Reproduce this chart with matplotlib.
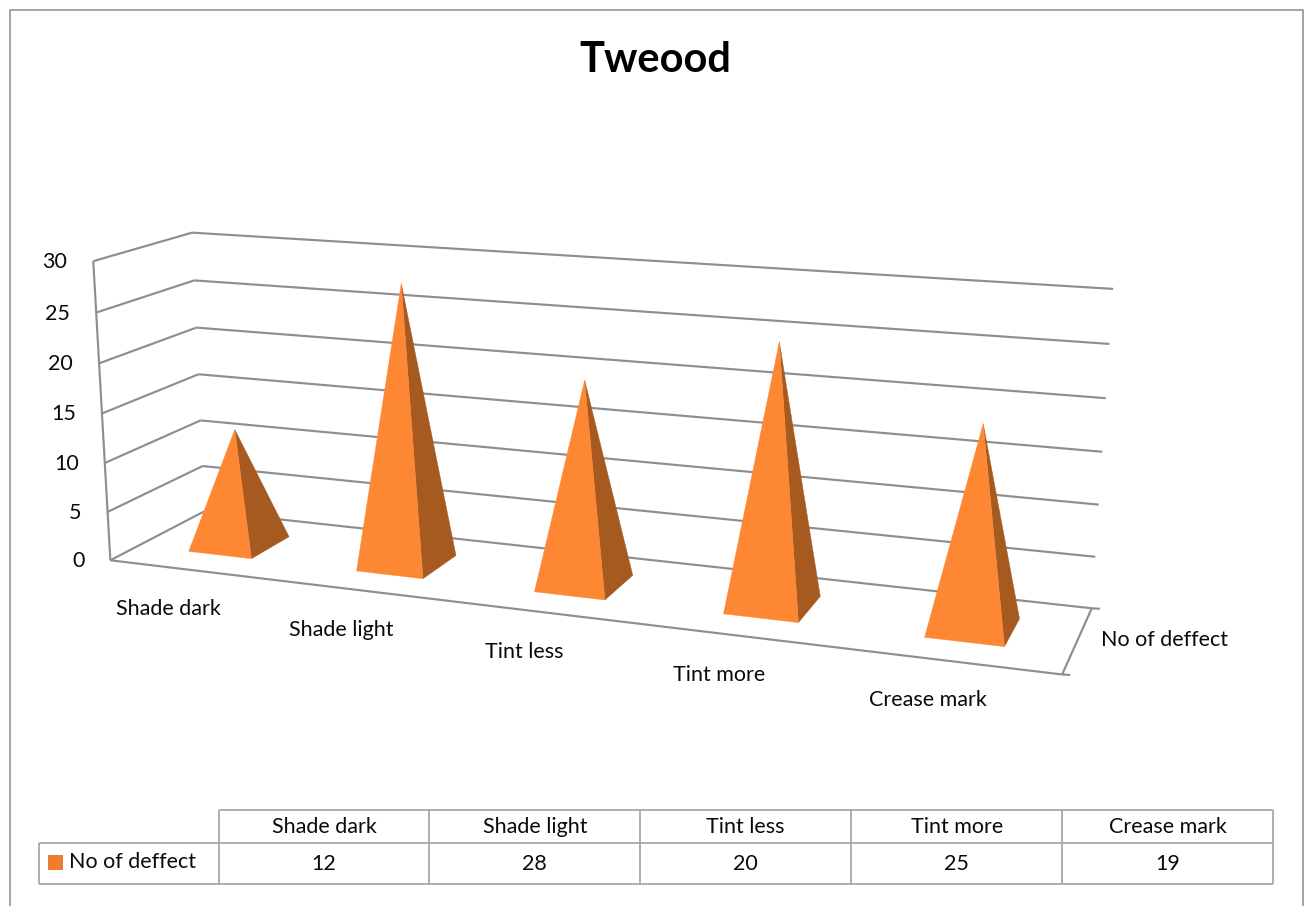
import numpy as np
import matplotlib
matplotlib.use("Agg")
import matplotlib.pyplot as plt
from matplotlib.patches import Polygon, Rectangle

plt.rcParams['font.family'] = ['Lato', 'DejaVu Sans']

# Chart data
title = "Tweood"
series_name = "No of deffect"
categories = ["Shade dark", "Shade light", "Tint less", "Tint more", "Crease mark"]
defects = [12, 28, 20, 25, 19]
y_ticks = [0, 5, 10, 15, 20, 25, 30]

W, H = 1307, 906
GRID = "#8f8d8d"
TABLE = "#a8a8a8"
FRAME = "#8c8c8c"
FRONT = "#fe8733"
SIDE = "#a65a20"
SWATCH = "#ed7d31"
TXT = "#0a0a0a"

fig = plt.figure(figsize=(W / 100, H / 100), dpi=100)
ax = fig.add_axes([0, 0, 1, 1])
ax.set_xlim(0, W)
ax.set_ylim(H, 0)
ax.axis("off")

# Perspective camera: solved from where the box corners land on the canvas.
# World axes are (category position, value, depth 0..1).
n = len(categories)
ymax = y_ticks[-1]
anchors = [
    ((0, 0, 0), (111, 560)),
    ((n, 0, 0), (1062, 675)),
    ((0, 0, 1), (204, 511.5)),
    ((n, 0, 1), (1092, 607.7)),
    ((0, ymax, 0), (92.7, 261)),
    ((0, ymax, 1), (192.7, 232.7)),
    ((n, ymax, 1), (1113, 289)),
]
rows = []
for (a, b, c), (px, py) in anchors:
    a, b, c = a / n, b / ymax, c
    rows.append([a, b, c, 1, 0, 0, 0, 0, -px * a, -px * b, -px * c, -px])
    rows.append([0, 0, 0, 0, a, b, c, 1, -py * a, -py * b, -py * c, -py])
P = np.linalg.svd(np.array(rows, float))[2][-1].reshape(3, 4)


def project(u, h, v):
    q = P @ np.array([u / n, h / ymax, v, 1.0])
    return q[0] / q[2], q[1] / q[2]


def line(p, q, color=GRID, lw=1.55):
    ax.plot([p[0], q[0]], [p[1], q[1]], color=color, lw=lw, solid_capstyle="butt", zorder=1)


# Walls and floor
for t in y_ticks:
    line(project(0, t, 0), project(0, t, 1))
    line(project(0, t, 1), project(n, t, 1))
    x, y = project(0, t, 0)
    ax.text(x - 26, y + 1, str(t), ha="right", va="center", fontsize=FS if False else 15.5, color=TXT)
line(project(0, 0, 0), project(0, ymax, 0))
line(project(0, 0, 0), project(n, 0, 0))
line(project(n, 0, 0), project(n, 0, 1))

# Short depth-axis ticks at the lower right of the floor
for v in (0, 1):
    x, y = project(n, 0, v)
    line((x, y), (x + 8, y + 0.5))

# Pyramids
half_w, half_d = 0.19, 0.215
for i, val in enumerate(defects):
    c = i + 0.5
    apex = project(c, val, 0.5)
    fl = project(c - half_w, 0, 0.5 - half_d)
    fr = project(c + half_w, 0, 0.5 - half_d)
    br = project(c + half_w, 0, 0.5 + half_d)
    ax.add_patch(Polygon([fr, br, apex], closed=True, fc=SIDE, ec=SIDE, lw=0.3, zorder=3))
    ax.add_patch(Polygon([fl, fr, apex], closed=True, fc=FRONT, ec=FRONT, lw=0.3, zorder=4))

# Category and series labels
for i, name in enumerate(categories):
    x, y = project(i + 0.5, 0, 0)
    ax.text(x - 25, y + 39, name, ha="center", va="center", fontsize=15.5, color=TXT)
x, y = project(n, 0, 0.5)
ax.text(x + 23, y + 0, series_name, ha="left", va="center", fontsize=15.5, color=TXT)

ax.text(655, 60, title, ha="center", va="center", fontsize=30, fontweight="bold", color="black")

# Data table underneath
col_x = np.linspace(218.5, 1273, n + 1)
top, mid, bot, left = 810, 842.5, 884, 38.5
for xv in col_x:
    line((xv, top), (xv, bot), TABLE, 1.3)
line((col_x[0], top), (col_x[-1], top), TABLE, 1.3)
line((left, mid), (col_x[-1], mid), TABLE, 1.3)
line((left, bot), (col_x[-1], bot), TABLE, 1.3)
line((left, mid), (left, bot), TABLE, 1.3)
for i, (name, val) in enumerate(zip(categories, defects)):
    cx = (col_x[i] + col_x[i + 1]) / 2
    ax.text(cx, (top + mid) / 2 + 0.5, name, ha="center", va="center", fontsize=15.5, color=TXT)
    ax.text(cx, (mid + bot) / 2 + 0.5, str(val), ha="center", va="center", fontsize=15.5, color=TXT)
ax.add_patch(Rectangle((48, 855), 15, 15, fc=SWATCH, ec="none", zorder=2))
ax.text(69, 862.5, series_name, ha="left", va="center", fontsize=15.5, color=TXT)

# Outer chart frame, running off the bottom of the canvas
ax.plot([9.5, 9.5, 1302.5, 1302.5], [H, 9.5, 9.5, H], color=FRAME, lw=1.1, zorder=0)

fig.savefig("out.png", dpi=100)
